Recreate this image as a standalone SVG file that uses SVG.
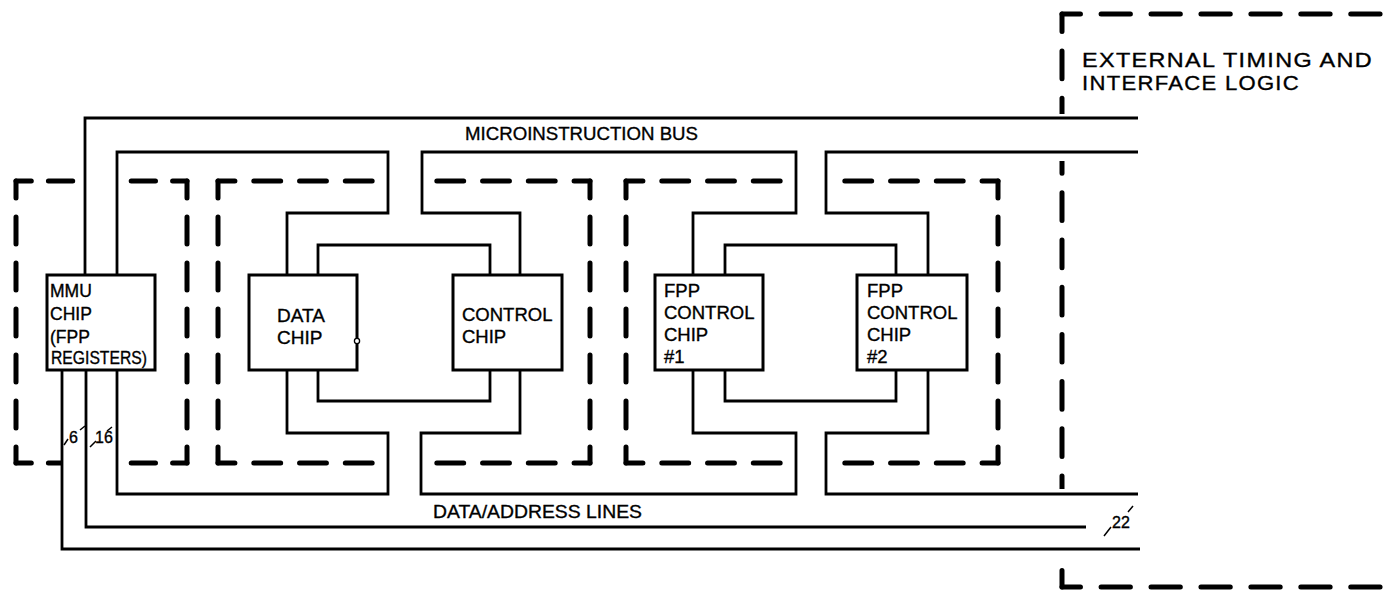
<svg xmlns="http://www.w3.org/2000/svg" width="1389" height="595" viewBox="0 0 1389 595">
<style>
.bg{fill:#fff}
.w{fill:none;stroke:#000;stroke-width:2.8;stroke-linejoin:miter}
.box{fill:#fff;stroke:#000;stroke-width:3}
.d{fill:none;stroke:#000;stroke-width:5;stroke-linecap:round;stroke-dasharray:27 19;stroke-dashoffset:10}
.t{font-family:"Liberation Sans",Arial,sans-serif;fill:#000;stroke:#000;stroke-width:0.35}
.tick{stroke:#000;stroke-width:1.5;fill:none}
</style>
<defs>
<mask id="band" maskUnits="userSpaceOnUse" x="0" y="0" width="1389" height="595">
<rect x="0" y="0" width="1389" height="595" fill="#fff"/>
<rect x="81" y="170" width="40" height="22" fill="#000"/>
<rect x="61" y="452" width="59" height="22" fill="#000"/>
<rect x="387" y="170" width="37" height="22" fill="#000"/>
<rect x="387" y="452" width="37" height="22" fill="#000"/>
<rect x="794" y="170" width="35" height="22" fill="#000"/>
<rect x="794" y="452" width="35" height="22" fill="#000"/>
<rect x="1050" y="114" width="24" height="47" fill="#000"/>
<rect x="1050" y="489" width="24" height="71" fill="#000"/>
</mask>
</defs>
<rect class="bg" x="0" y="0" width="1389" height="595"/>

<g id="boundaries" mask="url(#band)">
<g id="mmu-group">
<path class="d" d="M16,181 H187" pathLength="190"/>
<path class="d" d="M16,463 H187" pathLength="190"/>
<path class="d" d="M16,181 V463" pathLength="282"/>
<path class="d" d="M187,181 V463" pathLength="282"/>
</g>
<g id="cpu-group">
<path class="d" d="M218,181 H590" pathLength="374"/>
<path class="d" d="M218,463 H590" pathLength="374"/>
<path class="d" d="M218,181 V463" pathLength="282"/>
<path class="d" d="M590,181 V463" pathLength="282"/>
</g>
<g id="fpp-group">
<path class="d" d="M626,181 H998" pathLength="374"/>
<path class="d" d="M626,463 H998" pathLength="374"/>
<path class="d" d="M626,181 V463" pathLength="282"/>
<path class="d" d="M998,181 V463" pathLength="282"/>
</g>
<g id="external-group">
<path class="d" d="M1062,14 V587" pathLength="558"/>
<path class="d" d="M1062,14 H1468" pathLength="374"/>
<path class="d" d="M1062,587 H1468" pathLength="374"/>
</g>
</g>

<g id="connectors">
<path class="w" d="M85,275 V118 H1138"/>
<path class="w" d="M117,275 V152 H388 V213 H287 V275"/>
<path class="w" d="M318,275 V245 H490 V275"/>
<path class="w" d="M520,275 V213 H422 V152 H796 V213 H693 V275"/>
<path class="w" d="M725,275 V245 H896 V275"/>
<path class="w" d="M928,275 V213 H826 V152 H1138"/>
<path class="w" d="M62,370 V549 H1140"/>
<path class="w" d="M86,370 V527 H1086"/>
<path class="w" d="M117,370 V494 H388 V433 H287 V370"/>
<path class="w" d="M318,370 V401 H490 V370"/>
<path class="w" d="M520,370 V433 H421 V494 H796 V433 H693 V370"/>
<path class="w" d="M725,370 V401 H896 V370"/>
<path class="w" d="M928,370 V433 H826 V494 H1138"/>
<path class="tick" d="M64,445 L68,439 M80,430 L85,426"/>
<path class="tick" d="M90,447 L96,441 M107,431 L112,427"/>
<path class="tick" d="M1104,536 L1111,527 M1128,512 L1133,506"/>
<text class="t" x="69" y="443" font-size="16">6</text>
<text class="t" x="95" y="443" font-size="16">16</text>
<text class="t" x="1112" y="528" font-size="16">22</text>
<text class="t" x="465" y="140" font-size="18.5" textLength="233" lengthAdjust="spacingAndGlyphs">MICROINSTRUCTION BUS</text>
<text class="t" x="433" y="518" font-size="18.5" textLength="209" lengthAdjust="spacingAndGlyphs">DATA/ADDRESS LINES</text>
</g>

<g id="mmu-chip">
<rect class="box" x="47" y="275" width="108" height="95"/>
<text class="t" font-size="17.5"><tspan x="50" y="297">MMU</tspan><tspan x="50" y="320">CHIP</tspan><tspan x="50" y="343">(FPP</tspan></text>
<text class="t" x="51" y="364" font-size="17.5" textLength="96" lengthAdjust="spacingAndGlyphs">REGISTERS)</text>
</g>

<g id="data-chip">
<rect class="box" x="249" y="275" width="108" height="95"/>
<text class="t" font-size="19"><tspan x="277" y="322">DATA</tspan><tspan x="277" y="344">CHIP</tspan></text>
<circle cx="357" cy="341" r="2.6" fill="#fff" stroke="#000" stroke-width="1.3"/>
</g>

<g id="control-chip">
<rect class="box" x="453" y="275" width="109" height="95"/>
<text class="t" font-size="18.5"><tspan x="462" y="321">CONTROL</tspan><tspan x="462" y="343">CHIP</tspan></text>
</g>

<g id="fpp-control-chip-1">
<rect class="box" x="655" y="275" width="108" height="95"/>
<text class="t" font-size="18.5"><tspan x="664" y="297">FPP</tspan><tspan x="664" y="319">CONTROL</tspan><tspan x="664" y="341">CHIP</tspan><tspan x="664" y="363">#1</tspan></text>
</g>

<g id="fpp-control-chip-2">
<rect class="box" x="857" y="275" width="110" height="95"/>
<text class="t" font-size="18.5"><tspan x="867" y="297">FPP</tspan><tspan x="867" y="319">CONTROL</tspan><tspan x="867" y="341">CHIP</tspan><tspan x="867" y="363">#2</tspan></text>
</g>

<g id="external-logic">
<text class="t" x="1082" y="67" font-size="20.5" letter-spacing="1.2" textLength="291" lengthAdjust="spacingAndGlyphs">EXTERNAL TIMING AND</text>
<text class="t" x="1082" y="90" font-size="20.5" letter-spacing="1.2" textLength="218" lengthAdjust="spacingAndGlyphs">INTERFACE LOGIC</text>
</g>
</svg>
